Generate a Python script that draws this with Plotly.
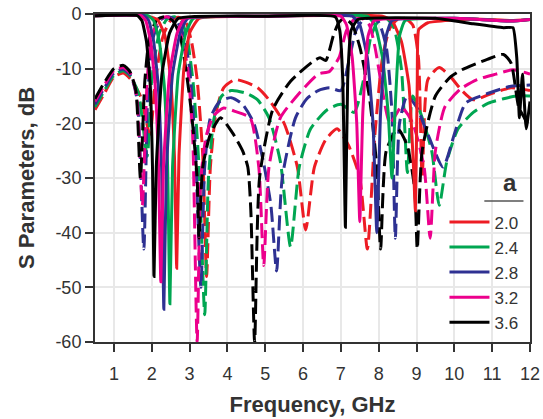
import plotly.graph_objects as go

# ---- data ----
labels = ["2.0", "2.4", "2.8", "3.2", "3.6"]
colors = ["#ED1C24", "#00A651", "#2E3192", "#EC008C", "#000000"]
freq_ticks = [1, 2, 3, 4, 5, 6, 7, 8, 9, 10, 11, 12]
db_ticks = [0, -10, -20, -30, -40, -50, -60]

# S21 (solid)
red_s21_f = [0.5, 1.8, 2.15, 2.35, 2.5, 2.6, 2.66, 2.72, 2.85, 3.0, 3.25, 5.0, 8.1, 8.35, 8.6, 8.8, 8.92, 8.97, 9.02, 9.06, 9.3, 10.5, 11.5, 12.0]
red_s21_db = [-0.3, -0.3, -1.0, -4.0, -12, -26, -46.5, -26, -10, -3.5, -0.8, -0.4, -0.4, -1.2, -5, -13, -28, -36, -12, -2.8, -1.6, -0.9, -1.2, -1.0]

green_s21_f = [0.5, 1.9, 2.05, 2.2, 2.33, 2.42, 2.48, 2.55, 2.7, 2.9, 3.1, 5.0, 7.7, 7.9, 8.1, 8.25, 8.35, 8.45, 8.55, 8.7, 10.0, 11.5, 12.0]
green_s21_db = [-0.3, -0.3, -1.2, -5, -13, -28, -53, -28, -11, -3.5, -0.8, -0.4, -0.4, -2, -8, -18, -30, -15, -4, -1.2, -0.8, -1.3, -1.0]

blue_s21_f = [0.5, 1.8, 1.92, 2.05, 2.17, 2.26, 2.32, 2.39, 2.55, 2.75, 2.95, 5.0, 7.3, 7.5, 7.7, 7.85, 7.95, 8.05, 8.2, 8.35, 10.0, 11.5, 12.0]
blue_s21_db = [-0.3, -0.3, -1.2, -5, -13, -28, -54, -28, -11, -3.5, -0.8, -0.4, -0.4, -2, -8, -20, -40, -18, -4, -1.2, -0.8, -1.3, -1.0]

pink_s21_f = [0.5, 1.72, 1.84, 1.97, 2.09, 2.18, 2.24, 2.31, 2.47, 2.67, 2.87, 5.0, 7.0, 7.15, 7.3, 7.42, 7.5, 7.58, 7.72, 7.88, 10.0, 11.5, 12.0]
pink_s21_db = [-0.3, -0.3, -1.2, -5, -13, -28, -49, -28, -11, -3.5, -0.8, -0.4, -0.4, -2, -8, -20, -38, -18, -4, -1.2, -0.8, -1.3, -1.0]

black_s21_f = [0.5, 1.62, 1.74, 1.86, 1.96, 2.02, 2.06, 2.12, 2.27, 2.47, 2.7, 5.0, 6.85, 6.97, 7.05, 7.12, 7.18, 7.27, 7.45, 9.5, 10.5, 11.3, 11.55, 11.65, 11.72, 11.8, 11.9, 12.0]
black_s21_db = [-0.3, -0.3, -1.2, -5, -13, -28, -48, -28, -11, -3.5, -0.8, -0.4, -0.5, -3, -12, -39, -12, -3, -1.0, -0.8, -1.8, -2.5, -2.5, -8, -19, -11, -21, -16]

# S11 (dashed)
red_s11_f = [0.5, 0.75, 1.0, 1.25, 1.45, 1.7, 1.95, 2.1, 2.3, 2.5, 2.7, 2.9, 3.05, 3.2, 3.35, 3.45, 3.55, 3.7, 3.9, 4.2, 4.5, 4.8, 5.1, 5.5, 5.85, 6.07, 6.3, 6.6, 6.9, 7.2, 7.5, 7.7, 7.9, 8.1, 8.3, 8.5, 8.7, 8.9, 9.05, 9.15, 9.3, 9.6, 9.9, 10.2, 10.5, 11.0, 11.5, 12.0]
red_s11_db = [-17.5, -14.5, -11.5, -10.8, -12, -15, -22, -12, -4, -1.2, -0.6, -1.5, -5, -12, -26, -48, -28, -18, -13.5, -12, -12.5, -13.5, -15.7, -20, -28, -39.5, -28, -23, -21, -24, -30, -43, -22, -8, -2.5, -1, -0.8, -2, -8, -30, -12, -9.8, -11.5, -14, -15.7, -14.5, -13.5, -14]

green_s11_f = [0.5, 0.75, 1.0, 1.25, 1.45, 1.65, 1.88, 2.0, 2.2, 2.4, 2.6, 2.8, 2.95, 3.1, 3.25, 3.4, 3.5, 3.65, 3.85, 4.1, 4.5, 4.8, 5.1, 5.4, 5.67, 5.9, 6.2, 6.64, 7.0, 7.35, 7.6, 7.8, 8.0, 8.2, 8.4, 8.6, 8.76, 8.9, 9.1, 9.4, 9.6, 9.8, 10.1, 10.5, 10.9, 11.3, 11.65, 12.0]
green_s11_db = [-17, -14, -11.2, -10.4, -11.5, -14.5, -26, -12, -3.5, -1, -0.5, -1.5, -5, -13, -28, -55, -30, -19, -15, -14, -14.5, -15.7, -19, -27, -42.6, -28, -21, -17.5, -16.5, -18, -12, -4, -1.2, -0.8, -2.5, -10, -29, -15, -18, -25, -35, -27, -21, -18, -16.3, -15.5, -15, -15]

blue_s11_f = [0.5, 0.75, 1.0, 1.25, 1.45, 1.62, 1.79, 1.9, 2.05, 2.25, 2.45, 2.65, 2.85, 3.0, 3.15, 3.3, 3.4, 3.55, 3.8, 4.1, 4.4, 4.7, 4.95, 5.15, 5.3, 5.45, 5.8, 6.1, 6.4, 6.7, 7.0, 7.2, 7.4, 7.6, 7.8, 8.0, 8.2, 8.35, 8.44, 8.55, 8.75, 9.0, 9.3, 9.7, 10.0, 10.3, 10.9, 11.5, 12.0]
blue_s11_db = [-16.5, -13.5, -10.8, -10.1, -11.3, -16, -43, -14, -4, -1, -0.5, -1.2, -4, -10, -24, -50, -28, -19, -16, -15.3, -16.5, -20, -27, -35, -47, -30, -19, -15.5, -14, -13.5, -14, -9, -3, -1, -0.7, -1.5, -6, -18, -41, -20, -15, -17, -22, -28, -22, -16.3, -14.5, -13.2, -13]

pink_s11_f = [0.5, 0.75, 1.0, 1.25, 1.45, 1.6, 1.75, 1.88, 2.0, 2.2, 2.4, 2.6, 2.78, 2.95, 3.08, 3.2, 3.3, 3.45, 3.65, 3.9, 4.2, 4.6, 4.83, 4.96, 5.1, 5.4, 5.9, 6.4, 6.7, 6.95, 7.15, 7.35, 7.55, 7.75, 7.9, 8.05, 8.3, 8.6, 8.9, 9.2, 9.36, 9.5, 9.75, 10.15, 10.6, 11.1, 11.55, 12.0]
pink_s11_db = [-16, -13, -10.3, -9.8, -11, -15, -35, -12, -4, -1, -0.5, -1.5, -4, -10, -22, -60, -30, -22, -18.5, -17.2, -17.8, -19, -28, -46, -28, -19, -14.5, -11, -10.5, -8, -3, -1, -0.8, -2, -6, -12, -20, -17, -20, -28, -41, -25, -17, -13.8, -12, -11, -10.2, -11]

black_s11_f = [0.5, 0.75, 1.0, 1.25, 1.42, 1.58, 1.7, 1.82, 1.95, 2.15, 2.35, 2.55, 2.75, 2.9, 3.05, 3.2, 3.25, 3.35, 3.55, 3.82, 4.14, 4.4, 4.54, 4.62, 4.72, 4.85, 5.2, 5.67, 6.28, 6.45, 6.6, 6.8, 6.95, 7.1, 7.3, 7.5, 7.75, 7.95, 8.05, 8.2, 8.5, 8.75, 8.95, 9.02, 9.15, 9.5, 9.9, 10.2, 10.87, 11.3, 11.5, 11.7, 11.85, 12.0]
black_s11_db = [-15.5, -12.5, -10, -9.4, -10.5, -14, -30, -12, -4, -1, -0.5, -1.2, -4, -10, -18, -30, -41, -28, -22, -19, -21.8, -25, -28, -36, -60, -30, -17.5, -12.3, -8.6, -8, -8.5, -4, -1.5, -0.8, -2, -6, -15, -28, -43, -25, -21, -24, -32, -43, -25, -15, -11.5, -10.2, -8.3, -7.4, -9, -17, -19, -21]

s21_f = [red_s21_f, green_s21_f, blue_s21_f, pink_s21_f, black_s21_f]
s21_db = [red_s21_db, green_s21_db, blue_s21_db, pink_s21_db, black_s21_db]
s11_f = [red_s11_f, green_s11_f, blue_s11_f, pink_s11_f, black_s11_f]
s11_db = [red_s11_db, green_s11_db, blue_s11_db, pink_s11_db, black_s11_db]

FONT = "Liberation Sans, Arial, sans-serif"
TXT = "#333333"

fig = go.Figure()
for i in range(5):
    fig.add_trace(go.Scatter(
        x=s11_f[i], y=s11_db[i], mode="lines", showlegend=False,
        line=dict(color=colors[i], width=3, dash="15px,6px", shape="spline", smoothing=0.6),
        hoverinfo="skip"))
for i in range(5):
    fig.add_trace(go.Scatter(
        x=s21_f[i], y=s21_db[i], mode="lines", name=labels[i],
        line=dict(color=colors[i], width=3, shape="spline", smoothing=0.4)))

fig.update_layout(
    width=543, height=419,
    margin=dict(l=95, r=13, t=14, b=77),
    paper_bgcolor="white", plot_bgcolor="white",
    font=dict(family=FONT, size=18, color=TXT),
    legend=dict(
        x=0.985, y=0.005, xanchor="right", yanchor="bottom",
        bgcolor="rgba(255,255,255,0)", borderwidth=0,
        font=dict(family=FONT, size=17, color=TXT),
        itemwidth=40, tracegroupgap=0,
    ),
    xaxis=dict(
        range=[0.5, 12], tickvals=freq_ticks, ticktext=[str(v) for v in freq_ticks],
        ticks="outside", ticklen=8, tickwidth=1.5, tickcolor=TXT,
        showline=True, linecolor=TXT, linewidth=2, mirror=True,
        showgrid=True, gridcolor="#e8e8e8", gridwidth=1.5, zeroline=False,
        tickfont=dict(family=FONT, size=18, color=TXT),
        ticklabelstandoff=6,
        automargin=False,
        title=dict(text="<b>Frequency, GHz</b>", standoff=14,
                   font=dict(family=FONT, size=22, color=TXT)),
    ),
    yaxis=dict(
        range=[-60, 0], tickvals=db_ticks, ticktext=[str(v) for v in db_ticks],
        ticks="outside", ticklen=8, tickwidth=1.5, tickcolor=TXT,
        showline=True, linecolor=TXT, linewidth=2, mirror=True,
        showgrid=True, gridcolor="#e8e8e8", gridwidth=1.5, zeroline=False,
        tickfont=dict(family=FONT, size=18, color=TXT),
        automargin=False,
        title=dict(text="<b>S Parameters, dB</b>", standoff=15,
                   font=dict(family=FONT, size=22, color=TXT)),
    ),
)

# legend heading "a" with rule underneath
fig.add_annotation(text="<b>a</b>", xref="paper", yref="paper",
                   x=0.954, y=0.485, showarrow=False,
                   xanchor="center", yanchor="middle",
                   font=dict(family=FONT, size=24, color=TXT))
fig.add_shape(type="line", xref="paper", yref="paper",
              x0=0.895, x1=0.985, y0=0.43, y1=0.43,
              line=dict(color="#555555", width=1.5))

fig.write_html("out.html", config={"displayModeBar": False},
               post_script="document.body.style.margin='0';document.body.style.padding='0';")
